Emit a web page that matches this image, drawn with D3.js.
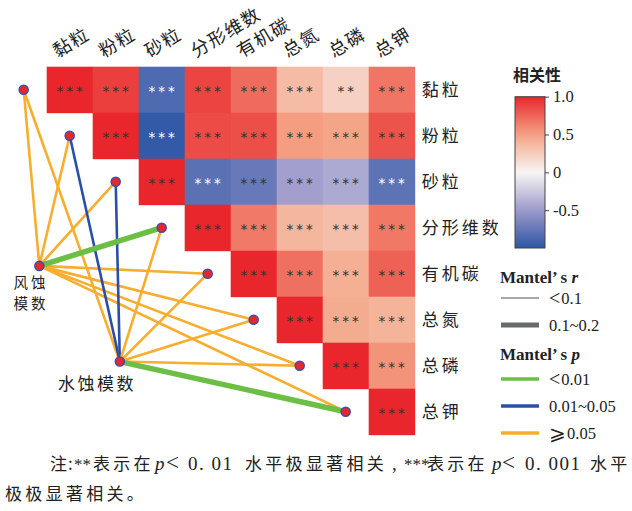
<!DOCTYPE html>
<html>
<head>
<meta charset="utf-8">
<script src="https://cdn.jsdelivr.net/npm/d3@7"></script>
<style>
body { margin: 0; background: #fff; }
svg { display: block; }
</style>
</head>
<body>
<svg id="chart" width="632" height="511"></svg>
<script>
// variables of the correlation matrix
let vars = ["黏粒", "粉粒", "砂粒", "分形维数", "有机碳", "总氮", "总磷", "总钾"];

// upper triangle, row i holds columns i..7
let rRows = [
    [1, 0.9, -0.85, 0.88, 0.72, 0.35, 0.22, 0.68],
    [1, -0.97, 0.85, 0.84, 0.52, 0.48, 0.82],
    [1, -0.8, -0.74, -0.48, -0.42, -0.79],
    [1, 0.66, 0.38, 0.33, 0.67],
    [1, 0.7, 0.42, 0.76],
    [1, 0.44, 0.4],
    [1, 0.56],
    [1]
];
let starRows = [
    ["***", "***", "***", "***", "***", "***", "**", "***"],
    ["***", "***", "***", "***", "***", "***", "***"],
    ["***", "***", "***", "***", "***", "***"],
    ["***", "***", "***", "***", "***"],
    ["***", "***", "***", "***"],
    ["***", "***", "***"],
    ["***", "***"],
    ["***"]
];

// mantel test
let sources = ["风蚀模数", "水蚀模数"];
let sourceCol = [-0.16, 1.59];   // grid units
let sourceRow = [4.33, 6.41];
let pClass = [
    ["≥0.05", "≥0.05", "≥0.05", "<0.01", "≥0.05", "≥0.05", "≥0.05", "≥0.05"],
    ["≥0.05", "0.01~0.05", "0.01~0.05", "≥0.05", "≥0.05", "≥0.05", "≥0.05", "<0.01"]
];
let rClass = [
    ["<0.1", "<0.1", "<0.1", "0.1~0.2", "<0.1", "<0.1", "<0.1", "<0.1"],
    ["<0.1", "<0.1", "<0.1", "<0.1", "<0.1", "<0.1", "<0.1", "0.1~0.2"]
];

let colorTicks = [1.0, 0.5, 0, -0.5];
let rLegend = ["<0.1", "0.1~0.2"];
let pLegend = ["<0.01", "0.01~0.05", "≥0.05"];

let svg = d3.select("#chart");
let cjk = "'Noto Sans CJK SC', sans-serif";
let serif = "'Liberation Serif', 'DejaVu Serif', serif";

let gx = d3.scaleLinear().domain([0, 8]).range([46.7, 414.7]);
let gy = d3.scaleLinear().domain([0, 8]).range([66.7, 434.7]);
let cell = gx(1) - gx(0);

let color = d3.scaleLinear()
    .domain([-1, -0.5, 0, 0.5, 1])
    .range(["#2c56a5", "#9e9acb", "#f8f5f5", "#f4a283", "#e8262c"]);

let pColor = d3.scaleOrdinal().domain(pLegend).range(["#6cbf45", "#2b4ea7", "#f7ad2e"]);
let rWidth = d3.scaleOrdinal().domain(rLegend).range([2.6, 5.5]);

// cells
let cells = [];
rRows.forEach(function (row, i) {
    row.forEach(function (v, k) {
        cells.push({ i: i, j: i + k, r: v, s: starRows[i][k] });
    });
});

// links
let links = [];
sources.forEach(function (s, si) {
    vars.forEach(function (v, j) {
        links.push({ s: si, t: j, p: pClass[si][j], r: rClass[si][j] });
    });
});
// thin lines first so thick ones sit on top
links.sort(function (a, b) { return rWidth(a.r) - rWidth(b.r); });

function nodeX(j) { return gx(j - 0.5); }
function nodeY(j) { return gy(j + 0.5); }

svg.append("g").selectAll("line")
    .data(links)
    .enter()
    .append("line")
    .attr("x1", function (d) { return gx(sourceCol[d.s]); })
    .attr("y1", function (d) { return gy(sourceRow[d.s]); })
    .attr("x2", function (d) { return nodeX(d.t); })
    .attr("y2", function (d) { return nodeY(d.t); })
    .attr("stroke", function (d) { return pColor(d.p); })
    .attr("stroke-width", function (d) { return rWidth(d.r); })
    .attr("stroke-linecap", "round");

let nodes = vars.map(function (v, j) { return { x: nodeX(j), y: nodeY(j) }; })
    .concat(sources.map(function (s, si) { return { x: gx(sourceCol[si]), y: gy(sourceRow[si]) }; }));

svg.append("g").selectAll("circle")
    .data(nodes)
    .enter()
    .append("circle")
    .attr("cx", function (d) { return d.x; })
    .attr("cy", function (d) { return d.y; })
    .attr("r", 4.5)
    .attr("fill", "#e8262c")
    .attr("stroke", "#3b4fae")
    .attr("stroke-width", 1.6);

// source labels
let s1 = svg.append("text")
    .attr("text-anchor", "middle")
    .style("font-family", cjk).style("font-size", "14.5px")
    .style("letter-spacing", "3px")
    .attr("fill", "#222");
s1.append("tspan").attr("x", 31).attr("y", 288).text(sources[0].slice(0, 2));
s1.append("tspan").attr("x", 31).attr("y", 309).text(sources[0].slice(2));

svg.append("text").attr("x", 97).attr("y", 390)
    .attr("text-anchor", "middle")
    .style("font-family", cjk).style("font-size", "17px")
    .style("letter-spacing", "2.5px")
    .attr("fill", "#222")
    .text(sources[1]);

// heatmap
let cg = svg.append("g").selectAll("g")
    .data(cells)
    .enter()
    .append("g");

cg.append("rect")
    .attr("x", function (d) { return gx(d.j); })
    .attr("y", function (d) { return gy(d.i); })
    .attr("width", cell + 0.5)
    .attr("height", cell + 0.5)
    .attr("fill", function (d) { return color(d.r); });

cg.append("text")
    .attr("x", function (d) { return gx(d.j + 0.5) + 1.5; })
    .attr("y", function (d) { return gy(d.i + 0.5) + 6; })
    .attr("text-anchor", "middle")
    .style("font-family", "'DejaVu Sans', sans-serif")
    .style("font-size", "13.5px")
    .style("letter-spacing", "3px")
    .attr("fill", function (d) { return d.r < -0.77 ? "#fff" : "#333"; })
    .text(function (d) { return d.s; });

// top labels
svg.append("g").selectAll("text")
    .data(vars)
    .enter()
    .append("text")
    .attr("transform", function (d, j) {
        return "translate(" + (gx(j + 0.5) - 12) + ",58) rotate(-31)";
    })
    .style("font-family", cjk)
    .style("font-size", "18px")
    .style("letter-spacing", "1.5px")
    .attr("fill", "#222")
    .text(function (d) { return d; });

// right labels
svg.append("g").selectAll("text")
    .data(vars)
    .enter()
    .append("text")
    .attr("x", gx(8) + 7)
    .attr("y", function (d, i) { return gy(i + 0.5) + 6; })
    .style("font-family", cjk)
    .style("font-size", "17px")
    .style("letter-spacing", "3px")
    .attr("fill", "#222")
    .text(function (d) { return d; });

// colour bar
let defs = svg.append("defs");
let grad = defs.append("linearGradient").attr("id", "cbar")
    .attr("x1", 0).attr("y1", 1).attr("x2", 0).attr("y2", 0);
d3.range(0, 1.0001, 0.1).forEach(function (t) {
    grad.append("stop").attr("offset", t).attr("stop-color", color(-1 + 2 * t));
});

let cy = d3.scaleLinear().domain([-1, 1]).range([248, 96.7]);
svg.append("rect")
    .attr("x", 515).attr("y", cy(1))
    .attr("width", 30).attr("height", cy(-1) - cy(1))
    .attr("fill", "url(#cbar)")
    .attr("stroke", "#444").attr("stroke-width", 1);

let cAxis = svg.append("g").attr("transform", "translate(545,0)")
    .call(d3.axisRight(cy).tickValues(colorTicks).tickSize(4)
        .tickFormat(function (d) { return d === 0 ? "0" : d.toFixed(1); }));
cAxis.select(".domain").remove();
cAxis.selectAll("line").attr("stroke", "#444");
cAxis.selectAll("text")
    .attr("x", 8)
    .style("font-family", serif)
    .style("font-size", "16.5px")
    .attr("fill", "#222");

svg.append("text").attr("x", 513).attr("y", 81)
    .style("font-family", cjk).style("font-size", "16px").style("font-weight", "bold").attr("fill", "#222")
    .text("相关性");

// legend item text: a big "<" sign then the number
function legendText(sel, d) {
    let lead = d.charAt(0);
    let t = sel.append("text").attr("x", 549).attr("y", 6)
        .style("font-family", serif).style("font-size", "16.5px").attr("fill", "#222");
    if (lead === "<" || lead === "≥") {
        t.append("tspan").style("font-size", "20px").attr("dy", 1)
            .text(lead === "<" ? "<" : "⩾");
        t.append("tspan").attr("dy", -1).attr("dx", 1).text(d.slice(1));
    } else {
        t.text(d);
    }
}

// Mantel's r legend
let t1 = svg.append("text").attr("x", 500).attr("y", 283)
    .style("font-family", serif).style("font-size", "17px").style("font-weight", "bold").attr("fill", "#222");
t1.append("tspan").text("Mantel’ s ");
t1.append("tspan").style("font-style", "italic").text("r");

let rl = svg.append("g").selectAll("g")
    .data(rLegend)
    .enter()
    .append("g")
    .attr("transform", function (d, i) { return "translate(0," + (298 + i * 27) + ")"; });
rl.append("line").attr("x1", 501).attr("x2", 539)
    .attr("stroke", function (d, i) { return i === 0 ? "#8a8a8a" : "#666a6a"; })
    .attr("stroke-width", function (d, i) { return i === 0 ? 1.5 : 5; });
rl.each(function (d) { legendText(d3.select(this), d); });

// Mantel's p legend
let t2 = svg.append("text").attr("x", 500).attr("y", 360)
    .style("font-family", serif).style("font-size", "17px").style("font-weight", "bold").attr("fill", "#222");
t2.append("tspan").text("Mantel’ s ");
t2.append("tspan").style("font-style", "italic").text("p");

let pl = svg.append("g").selectAll("g")
    .data(pLegend)
    .enter()
    .append("g")
    .attr("transform", function (d, i) { return "translate(0," + (379 + i * 27) + ")"; });
pl.append("line").attr("x1", 501).attr("x2", 539)
    .attr("stroke", function (d) { return pColor(d); })
    .attr("stroke-width", 3.5);
pl.each(function (d) { legendText(d3.select(this), d); });

// footnote
let note = svg.append("text").attr("y", 470)
    .style("font-size", "17px").attr("fill", "#222");
let parts = [
    [50, "注:", cjk, "normal", "1px", 17],
    [74, "**", serif, "normal", "0px", 17],
    [93, "表示在", cjk, "normal", "3.3px", 17],
    [155, "p", serif, "italic", "0px", 19],
    [166, "<", serif, "normal", "0px", 23],
    [188, "0. 01", serif, "normal", "1.5px", 19],
    [245, "水平极显著相关", cjk, "normal", "3.3px", 17],
    [392, ",", serif, "normal", "0px", 19],
    [404, "***", serif, "normal", "0px", 17],
    [427, "表示在", cjk, "normal", "3.3px", 17],
    [492, "p", serif, "italic", "0px", 19],
    [502, "<", serif, "normal", "0px", 23],
    [525, "0. 001", serif, "normal", "1.5px", 19],
    [590, "水平", cjk, "normal", "3.3px", 17]
];
parts.forEach(function (p) {
    note.append("tspan")
        .attr("x", p[0])
        .style("font-family", p[2])
        .style("font-style", p[3])
        .style("letter-spacing", p[4])
        .style("font-size", p[5] + "px")
        .text(p[1]);
});
svg.append("text").attr("x", 5).attr("y", 500)
    .style("font-family", cjk).style("font-size", "17px").style("letter-spacing", "3.3px").attr("fill", "#222")
    .text("极极显著相关。");
</script>
</body>
</html>
